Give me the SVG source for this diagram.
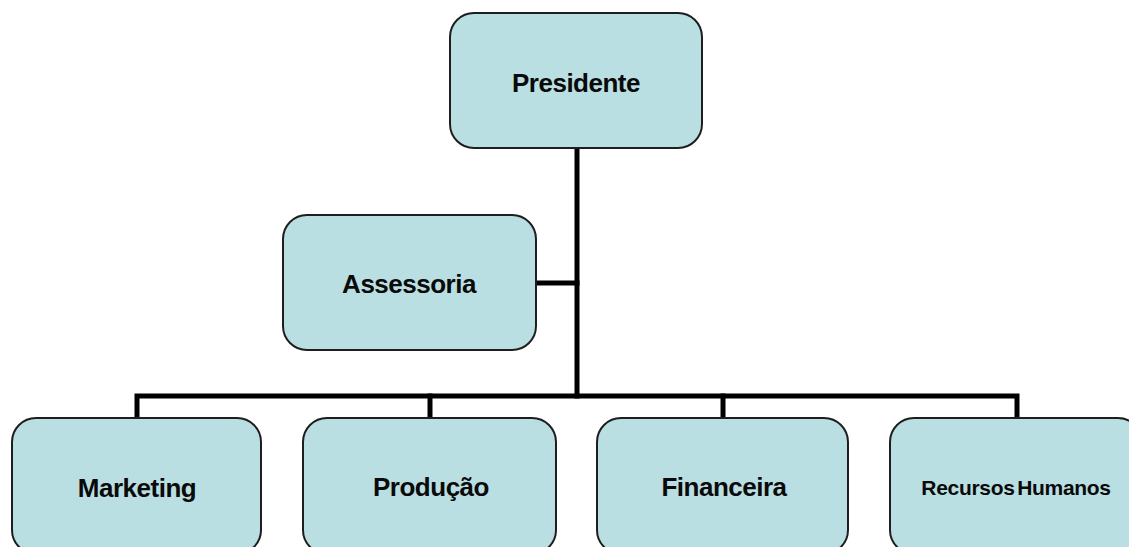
<svg xmlns="http://www.w3.org/2000/svg" width="1129" height="547" viewBox="0 0 1129 547">
<style>
.box{fill:#b9dfe2;stroke:#1e1e1e;stroke-width:2}
.lbl{font-family:"Liberation Sans",Arial,sans-serif;font-weight:bold;font-size:26px;fill:#0a0a0a;text-anchor:middle}
.conn{stroke:#000;stroke-width:5;fill:none;stroke-linecap:square}
</style>
<rect width="1129" height="547" fill="#fff"/>
<g id="connectors">
<path class="conn" d="M577,150 V396"/>
<path class="conn" d="M537,283 H577"/>
<path class="conn" d="M137,417 V396 H1017 V417"/>
<path class="conn" d="M430,396 V417"/>
<path class="conn" d="M723,396 V417"/>
</g>
<g id="presidente">
<rect class="box" x="450" y="13" width="252" height="135" rx="24"/>
<text class="lbl" x="576" y="92" style="letter-spacing:-0.5px">Presidente</text>
</g>
<g id="assessoria">
<rect class="box" x="283" y="215" width="253" height="135" rx="24"/>
<text class="lbl" x="409" y="293" style="letter-spacing:-0.5px">Assessoria</text>
</g>
<g id="marketing">
<rect class="box" x="12" y="418" width="249" height="136" rx="24"/>
<text class="lbl" x="137" y="497" style="letter-spacing:-0.5px">Marketing</text>
</g>
<g id="producao">
<rect class="box" x="303" y="418" width="253" height="136" rx="24"/>
<text class="lbl" x="431" y="496" style="letter-spacing:-0.5px">Produção</text>
</g>
<g id="financeira">
<rect class="box" x="597" y="418" width="251" height="136" rx="24"/>
<text class="lbl" x="724" y="496" style="letter-spacing:-0.5px">Financeira</text>
</g>
<g id="recursos-humanos">
<rect class="box" x="890" y="418" width="252" height="136" rx="24"/>
<text class="lbl" x="1016" y="495" style="font-size:21px;letter-spacing:-0.3px;word-spacing:-3px">Recursos Humanos</text>
</g>
</svg>
